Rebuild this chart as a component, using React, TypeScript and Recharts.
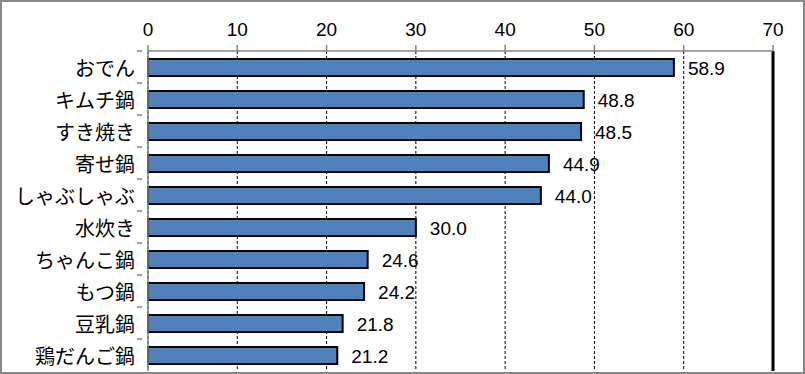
import React from 'react';
import {
  BarChart,
  Bar,
  XAxis,
  YAxis,
  CartesianGrid,
  LabelList,
  ReferenceLine,
} from 'recharts';

const categories = ['おでん', 'キムチ鍋', 'すき焼き', '寄せ鍋', 'しゃぶしゃぶ', '水炊き', 'ちゃんこ鍋', 'もつ鍋', '豆乳鍋', '鶏だんご鍋'];
const values = [58.9, 48.8, 48.5, 44.9, 44.0, 30.0, 24.6, 24.2, 21.8, 21.2];
const xTicks = [0, 10, 20, 30, 40, 50, 60, 70];

const data = categories.map((name, i) => ({ name, value: values[i] }));

const JP_FONT = '"Noto Sans CJK JP", "Noto Sans", sans-serif';
const NUM_FONT = '"Liberation Sans", Arial, sans-serif';

function CategoryTick(props: any) {
  const { x, y, payload } = props;
  return (
    <g>
      <line x1={x + 5} x2={x + 10} y1={y - 16} y2={y - 16} stroke="#868686" strokeWidth={1.5} />
      <text
        x={x + 3}
        y={y}
        textAnchor="end"
        dominantBaseline="central"
        fontFamily={JP_FONT}
        fontSize={20}
        fill="#000"
      >
        {payload.value}
      </text>
    </g>
  );
}

function ValueLabel(props: any) {
  const { x, y, width, height, value } = props;
  return (
    <text
      x={x + width + 14}
      y={y + height / 2 + 1}
      dominantBaseline="central"
      fontFamily={NUM_FONT}
      fontSize={19}
      fill="#000"
    >
      {Number(value).toFixed(1)}
    </text>
  );
}

export default function App() {
  return (
    <div style={{ position: 'absolute', left: 0, top: 0, width: 805, height: 374, background: '#fff' }}>
      <BarChart
        width={805}
        height={374}
        data={data}
        layout="vertical"
        margin={{ top: 6, right: 32, bottom: 3, left: 0 }}
        barCategoryGap={0}
      >
        <CartesianGrid horizontal={false} vertical stroke="#000" strokeDasharray="3 2" />
        <XAxis
          type="number"
          orientation="top"
          domain={[0, 70]}
          ticks={xTicks}
          height={45}
          axisLine={{ stroke: '#868686', strokeWidth: 1.5 }}
          tickLine={{ stroke: '#868686', strokeWidth: 1.5 }}
          tickSize={6}
          tick={{ fontFamily: NUM_FONT, fontSize: 19, fill: '#000' }}
          tickMargin={9}
        />
        <YAxis
          type="category"
          dataKey="name"
          width={148}
          axisLine={{ stroke: '#868686', strokeWidth: 1.5 }}
          tickLine={false}
          tick={<CategoryTick />}
          tickMargin={10}
        />
        <ReferenceLine x={70} stroke="#000" strokeWidth={3} />
        <Bar dataKey="value" fill="#4F81BD" stroke="#000" strokeWidth={2} barSize={17} isAnimationActive={false}>
          <LabelList dataKey="value" content={<ValueLabel />} />
        </Bar>
      </BarChart>
      <div
        style={{
          position: 'absolute',
          left: 0,
          top: 0,
          width: 805,
          height: 374,
          boxSizing: 'border-box',
          border: '2px solid #888',
          pointerEvents: 'none',
        }}
      />
    </div>
  );
}
